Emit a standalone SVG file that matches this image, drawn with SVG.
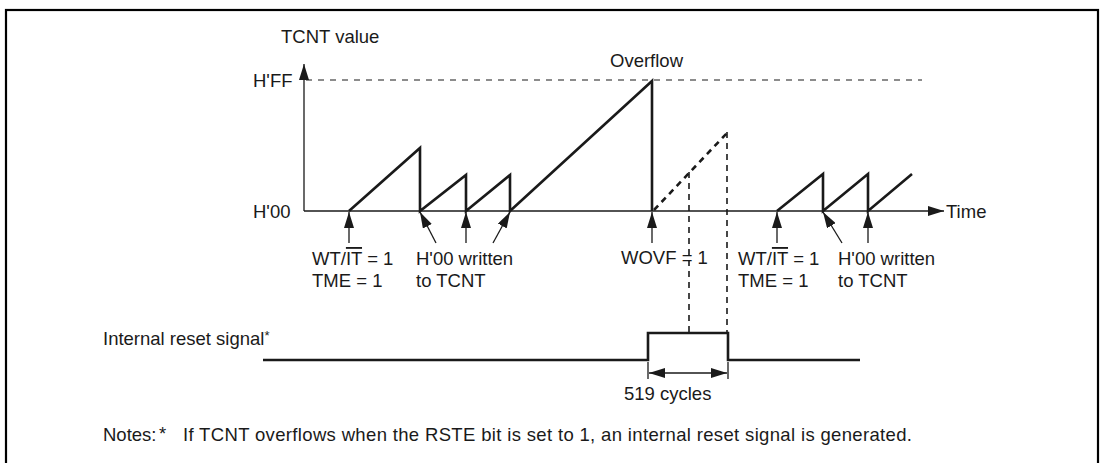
<svg xmlns="http://www.w3.org/2000/svg" width="1102" height="463" viewBox="0 0 1102 463">
<style>
text{font-family:"Liberation Sans",Arial,sans-serif;font-size:18.5px;fill:#1a1a1a}
.ax{stroke:#1a1a1a;stroke-width:1.3;fill:none}
.wave{stroke:#1a1a1a;stroke-width:2.6;fill:none;stroke-linejoin:miter}
.dash{stroke:#1a1a1a;stroke-width:1.2;fill:none;stroke-dasharray:6 6}
.vdash{stroke:#1a1a1a;stroke-width:1.6;fill:none;stroke-dasharray:6 5}
.dot{stroke:#1a1a1a;stroke-width:2.6;fill:none;stroke-dasharray:6 5}
.arr{stroke:#1a1a1a;stroke-width:1.3;fill:none;marker-end:url(#ah)}
</style>
<defs>
<marker id="ah" viewBox="0 0 16 10" refX="16" refY="5" markerWidth="16" markerHeight="10" markerUnits="userSpaceOnUse" orient="auto">
<path d="M0,0 L16,5 L0,10 Z" fill="#1a1a1a"/>
</marker>
<marker id="ahs" viewBox="0 0 16 10" refX="16" refY="5" markerWidth="16" markerHeight="10" markerUnits="userSpaceOnUse" orient="auto-start-reverse">
<path d="M0,0 L16,5 L0,10 Z" fill="#1a1a1a"/>
</marker>
</defs>
<rect x="6" y="10" width="1092" height="470" fill="none" stroke="#000" stroke-width="2.2"/>

<g id="axes">
<line class="ax" x1="304" y1="211" x2="304" y2="64" style="marker-end:url(#ah)"/>
<line class="ax" x1="304" y1="211" x2="944" y2="211" style="marker-end:url(#ah)"/>
<line class="dash" x1="306" y1="80" x2="922" y2="80"/>
<text x="281" y="43">TCNT value</text>
<text x="253" y="87">H'FF</text>
<text x="253" y="218">H'00</text>
<text x="946" y="218">Time</text>
<text x="610" y="67">Overflow</text>
</g>

<g id="counter">
<polyline class="wave" points="349,211 420,148 420,211 466,175 466,211 510,175 510,211 652,81 652,211"/>
<polyline class="wave" points="777,211 823,174 823,211 868,174 868,211 912,174"/>
<line class="dot" x1="654" y1="210" x2="727" y2="133"/>
</g>

<g id="reset">
<polyline class="wave" points="263,360 648,360 648,333 728,333 728,360 860,360"/>
<text x="103" y="345" font-size="16.5">Internal reset signal<tspan font-size="13" dy="-5">*</tspan></text>
</g>

<g id="connectors">
<line class="vdash" x1="689" y1="172" x2="689" y2="337"/>
<line class="vdash" x1="727" y1="132" x2="727" y2="333"/>
<line class="arr" x1="349" y1="243" x2="349" y2="212"/>
<line class="arr" x1="436" y1="243" x2="420" y2="212"/>
<line class="arr" x1="466" y1="243" x2="466" y2="212"/>
<line class="arr" x1="493" y1="243" x2="510" y2="212"/>
<line class="arr" x1="652" y1="243" x2="652" y2="212"/>
<line class="arr" x1="777" y1="243" x2="777" y2="212"/>
<line class="arr" x1="842" y1="243" x2="823" y2="212"/>
<line class="arr" x1="868" y1="243" x2="868" y2="212"/>
<line class="ax" x1="648" y1="362" x2="648" y2="379"/>
<line class="ax" x1="728" y1="362" x2="728" y2="379"/>
<line class="ax" x1="649" y1="373" x2="727" y2="373" style="marker-start:url(#ahs);marker-end:url(#ah)"/>
</g>

<g id="labels">
<text x="312" y="265">WT/<tspan text-decoration="overline">IT</tspan> = 1</text>
<text x="312" y="287">TME = 1</text>
<text x="416" y="265">H'00 written</text>
<text x="416" y="287">to TCNT</text>
<text x="621" y="264">WOVF = 1</text>
<text x="738" y="265">WT/<tspan text-decoration="overline">IT</tspan> = 1</text>
<text x="738" y="287">TME = 1</text>
<text x="838" y="265">H'00 written</text>
<text x="838" y="287">to TCNT</text>
<text x="624" y="400">519 cycles</text>
</g>

<g id="notes">
<text x="103" y="441" font-size="17">Notes:</text>
<text x="159" y="440" font-size="15">*</text>
<text x="183" y="441" textLength="729" lengthAdjust="spacing">If TCNT overflows when the RSTE bit is set to 1, an internal reset signal is generated.</text>
</g>
</svg>
